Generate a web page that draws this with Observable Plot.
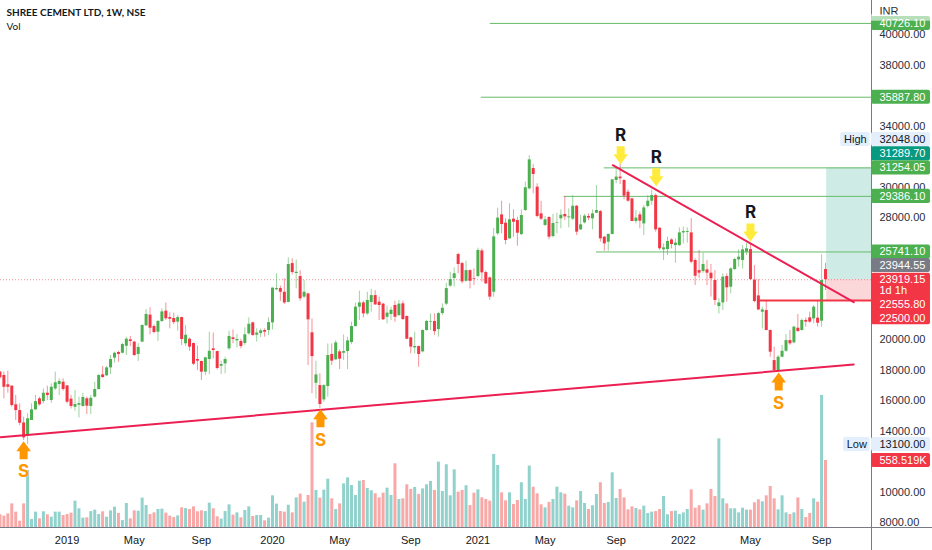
<!DOCTYPE html>
<html>
<head>
<meta charset="utf-8">
<script src="https://cdn.jsdelivr.net/npm/d3@7"></script>
<script src="https://cdn.jsdelivr.net/npm/@observablehq/plot@0.6"></script>
<style>
html,body{margin:0;padding:0;background:#fff;overflow:hidden}
svg{display:block}
</style>
</head>
<body>
<div id="chart"></div>
<script>
// Weekly candles, [open, high, low, close]
const candles2018 = [
[17870,17900,17400,17500],[17640,17860,16110,16870],[17030,17920,16480,16870],[16940,16980,15560,15670],[15720,16330,14690,15340],[15340,15780,14360,14510],[14530,14910,13380,13550],[13770,15130,13110,14800],[14690,15780,14690,15390],[15390,16330,15340,15930],[16110,16220,15630,15720],[15930,16760,15780,16480],[16480,16940,16000,16330],[16000,17090,15820,16870],[16760,17860,16660,17160],[17050,17420,16330,17250],[17200,17420,16610,16720]
];
const candles2019 = [
[16960,16980,15780,15890],[16090,16330,15450,15610],[15560,16660,15300,15740],[15690,16220,14860,15800],[15610,16480,15560,16200],[16110,16220,15080,15630],[15610,16330,15080,16150],[16220,17200,16170,16720],[16720,17700,16700,17640],[17680,18230,17460,17510],[17620,18230,17570,18140],[18140,18950,17700,18690],[18780,19170,18450,19100],[19150,19230,18510,19020],[19100,19760,19060,19670],[19560,20150,18950,20020],[19980,20200,19540,19870],[19830,19890,18890,18950],[19020,19720,18560,19480],[19830,20960,19800,20920],[20900,21950,20850,21640],[21600,22080,20310,20740],[20850,20960,20370,20460],[20480,21250,19870,21180],[21180,22010,21110,21810],[21860,22400,21250,21360],[21440,21750,20700,21330],[21380,21730,20980,21110],[21140,21570,20550,21440],[21440,21460,19610,20000],[19720,20920,19540,20280],[20020,20090,19230,19500],[19740,19760,18290,18380],[18690,19580,17970,18580],[18560,18580,17310,17860],[17860,18840,17640,18800],[18690,20480,17700,19230],[19390,20420,18730,19280],[19210,19230,18010,18100],[18250,18580,17700,18360],[18400,18840,17750,18690],[19390,20550,19280,20200],[20110,20630,19720,20000],[19910,20330,19450,20000],[19870,20020,19390,19540],[19740,20770,19610,20310],[20370,21420,20280,21000],[21090,21140,20220,20260],[20280,20700,19830,20420],[20390,20700,20130,20570],[20590,20700,20150,20480],[20590,21420,20260,21110]
];
const candles2020 = [
[21090,23390,20630,23370],[23260,24310,23210,23340],[23340,23500,22510,23100],[23100,23980,22290,22400],[22430,25350,22400,24920],[24980,25290,24240,24390],[24330,25220,23320,24410],[24130,24520,22510,22670],[22780,23870,22670,23100],[22990,23040,18290,21290],[20440,21350,16440,18880],[17130,18580,16110,17680],[16980,17750,15450,15740],[16040,17030,15890,16980],[16920,19710,16220,18950],[19020,19710,18290,18580],[18670,19930,18620,19780],[19190,19320,18030,18710],[19100,20300,18620,19210],[19210,20150,18030,19910],[19800,21140,19670,20850],[20850,22380,20810,22120],[22120,23170,21250,22400],[22400,22510,21420,21680],[21680,23100,21570,22560],[22430,23280,21790,22880],[22880,23210,22230,22270],[22450,22780,21250,22230],[22320,22380,21250,21290],[21460,22190,21030,21730],[21640,22120,21250,21920],[22230,22510,21140,21460],[21570,22560,21510,22320],[22340,22510,21250,21310],[21510,21550,19980,20020],[20110,20150,19060,19500],[19450,20480,19060,19540],[19540,19580,18180,19020],[19190,20630,19120,20590],[20590,21250,20550,21180],[21140,21680,20590,21180],[21180,21680,20260,20520],[20650,21790,20150,21700],[21700,22340,21570,22050],[22320,23690,22230,23340],[23500,24410,23430,23930],[24000,24700,23430,24310],[25570,25660,24310,24920],[24980,25070,23650,23780],[23820,25140,23760,24520],[24520,24570,23320,23820],[24000,24630,23540,23960]
];
const candles2021 = [
[24130,25990,24040,25840],[25810,25940,23760,24370],[24390,24480,23600,23650],[24040,24090,22560,22780],[23100,27280,22780,26730],[26930,28610,26820,27960],[28170,29070,26930,27540],[27630,27910,26210,26490],[26600,28900,26560,27850],[27890,28500,26710,27690],[27800,28020,26120,26970],[26880,28500,26820,28130],[28460,30320,28390,29950],[29880,32050,29810,31780],[31210,31480,29550,30820],[29990,30210,27980,28070],[28240,29050,27800,27890],[27480,28070,27410,27850],[28000,28070,26540,26710],[26750,28200,26670,27610],[27630,28280,26930,27670],[27910,28500,27260,28150],[28200,29380,27800,28040],[27980,28570,27320,28040],[27890,29440,27800,28740],[28740,28790,26820,27040],[27190,28130,27150,27520],[27650,28200,27580,28090],[28070,28240,27800,27960],[27910,28500,27190,28240],[28280,30100,28280,28460],[28390,28460,26380,26600],[26710,26750,25790,26270],[26380,26930,25790,26890],[26890,30490,26860,30470],[30430,31340,30210,30650],[30650,31520,30160,30540],[30430,30470,29160,29400],[29660,29810,29000,29070],[29220,29270,27720,27740],[27740,28460,27580,27960],[28170,28350,27260,27760],[27580,28790,26820,28630],[28720,29440,28630,29070],[29070,29810,28790,29440],[29440,29550,27040,27190],[27300,27320,25840,25950],[25880,26270,25180,26010],[25900,26710,25510,26430],[26530,26600,25950,26230],[26160,26600,25000,26320],[26160,27320,26100,26990]
];
const candles2022 = [
[26990,27370,26270,27080],[27020,27320,26320,27080],[26990,27930,24960,25070],[25180,25290,23540,24150],[24520,25840,23980,24350],[24460,25660,24350,24920],[24570,25180,23540,24350],[24350,24920,22780,23980],[23870,24520,22230,22560],[22160,22670,21680,22400],[22400,24310,21900,24090],[24130,24310,22450,23390],[23430,24700,22990,24630],[24590,25330,24520,25250],[25220,25880,24740,25400],[25180,26160,24630,25880],[25730,26320,25510,25950],[25900,26270,23870,23930],[23890,24850,22400,22490],[22860,23930,21900,21940],[21790,22120,20700,21940],[21900,22560,20590,20590],[20590,20630,18840,19170],[18620,19500,17920,17970],[17970,18950,17920,18840],[18840,19610,18800,19230],[19230,20330,19170,19930],[19930,20590,19610,19720],[19780,20870,19720,20810],[20740,21640,20480,20520],[20590,21350,20550,21250],[21250,21420,20810,21140],[21420,21790,21070,21140],[21350,22230,21030,22120],[21400,22560,20810,21070],[21200,25550,20810,23870],[24590,25000,23210,23919.15]
];
// Weekly volume, thousands
const volumes = [
106,95,114,197,128,53,197,475,67,128,72,131,106,86,128,128,100,108,120,220,156,78,81,133,145,108,131,86,139,170,117,58,200,72,139,136,245,183,108,122,150,153,120,95,83,97,164,158,150,172,131,139,133,203,156,89,70,133,189,103,122,81,142,172,92,100,100,56,78,264,195,133,128,186,122,247,278,211,267,873,309,245,311,403,239,150,197,364,414,350,267,386,392,325,306,281,247,286,328,267,531,234,239,356,317,334,275,322,356,384,309,545,300,523,
264,481,295,309,348,183,286,314,247,234,220,609,517,289,222,289,192,225,373,234,512,336,281,189,164,209,234,336,289,278,178,164,222,300,200,150,181,275,373,200,209,456,242,317,247,147,172,158,147,178,117,128,133,150,259,106,133,136,108,122,150,314,161,181,145,197,317,259,739,239,197,156,156,122,161,145,145,206,231,214,264,342,239,147,264,122,108,122,247,150,83,117,239,211,1101,558.519
];
const lastWeek = new Date("2022-09-12");
const priceTicks = [8000,10000,14000,16000,18000,20000,28000,30000,34000,38000,40000];
const monthTickDates = ["2019-01-07","2019-05-06","2019-09-02","2020-01-06","2020-05-04","2020-09-07","2021-01-04","2021-05-03","2021-09-06","2022-01-03","2022-05-02","2022-09-05"];
const monthTickLabels = ["2019","May","Sep","2020","May","Sep","2021","May","Sep","2022","May","Sep"];
const axisLabels = [
  {t:"40726.10",p:40727,c:"#4caf50",f:"#fff"},
  {t:"35887.80",p:35887.8,c:"#4caf50",f:"#fff"},
  {t:"32048.00",p:33115,c:"#e3effd",f:"#131722"},
  {t:"31289.70",p:32177,c:"#089981",f:"#fff"},
  {t:"31254.05",p:31254.05,c:"#4caf50",f:"#fff"},
  {t:"29386.10",p:29386.1,c:"#4caf50",f:"#fff"},
  {t:"25741.10",p:25741.1,c:"#4caf50",f:"#fff"},
  {t:"23944.55",p:24853,c:"#787b86",f:"#fff"},
  {t:"13100.00",p:13116,c:"#e3effd",f:"#131722"},
  {t:"558.519K",p:12067,c:"#f23645",f:"#fff"}
];
const redBlockTexts = [
  {t:"23919.15",p:23919.15},{t:"1d 1h",p:23214},{t:"22555.80",p:22296},{t:"22500.00",p:21378}
];
const redBlockRange = [20965, 24345];
const hiLoNames = [
  {t:"High",p:33115,from:"2022-10-09"},
  {t:"Low",p:13116,from:"2022-10-14"}
];
const greenLevels = [
  {p:40726.1,from:"2021-01-26"},
  {p:35887.8,from:"2021-01-10"},
  {p:31254.05,from:"2021-08-16"},
  {p:29386.1,from:"2021-06-06"},
  {p:25741.1,from:"2021-08-02"}
];
const redLevel = {p:22555.8,from:"2022-05-18"};
const trendLines = [
  [{d:"2018-09-11",p:13595},{d:"2022-11-01",p:18362}],
  [{d:"2021-08-31",p:31430},{d:"2022-11-01",p:22447}]
];
const supportArrows = [{d:"2018-10-22",p:12742},{d:"2020-03-31",p:14833},{d:"2022-06-21",p:17246}];
const resistArrows = [{d:"2021-09-14",p:32085},{d:"2021-11-16",p:30643},{d:"2022-05-02",p:27017}];
const supportLabels = [{d:"2018-10-22",p:11345},{d:"2020-03-31",p:13378},{d:"2022-06-21",p:15824}];
const resistLabels = [{d:"2021-09-14",p:33377},{d:"2021-11-16",p:31915},{d:"2022-05-02",p:28348}];
const positionStart = new Date("2022-09-14");
const currentPrice = 23919.15;
const targetPrice = 31254.05;
const stopPrice = 22555.8;

// Volume pane shares the price scale through this mapping
const volBase = 7674, volPerK = 7.866;
const vy = v => volBase + v * volPerK;

const ohlc = [...candles2018, ...candles2019, ...candles2020, ...candles2021, ...candles2022];
const n = ohlc.length;
const rows = ohlc.map(([o,h,l,c], i) => ({
  date: d3.utcDay.offset(lastWeek, -7 * (n - 1 - i)),
  o, h, l, c, v: volumes[i], up: c >= o
}));
const D = s => new Date(s);
const gutter = D("2022-12-02T12:00Z");
const domainStart = D("2018-09-11");
const domainEnd = D("2023-03-20T14:00Z");
const boxEnd = D("2023-03-17");
const boxPad = 460;

const upArrow = {draw(ctx, size){
  const r = Math.sqrt(size/Math.PI), k = r/9;
  const pts = [[0,-9],[7.3,1],[4,1],[4,9],[-4,9],[-4,1],[-7.3,1]];
  pts.forEach(([x,y],i)=> i ? ctx.lineTo(x*k,y*k) : ctx.moveTo(x*k,y*k));
  ctx.closePath();
}};
const downArrow = {draw(ctx, size){
  const r = Math.sqrt(size/Math.PI), k = r/9;
  const pts = [[0,9],[7.3,-1],[4,-1],[4,-9],[-4,-9],[-4,-1],[-7.3,-1]];
  pts.forEach(([x,y],i)=> i ? ctx.lineTo(x*k,y*k) : ctx.moveTo(x*k,y*k));
  ctx.closePath();
}};

const axisFont = {fontSize:11, fontFamily:"Liberation Sans, Arial, sans-serif"};
const right = {frameAnchor:"right", textAnchor:"start", dx:-53};
const red = "#f23645", green = "#4caf50", trend = "#ec1f52";

const chart = Plot.plot({
  width:932, height:550,
  marginTop:0, marginRight:0, marginBottom:0, marginLeft:0,
  style:{background:"#fff"},
  x:{type:"utc", domain:[domainStart, domainEnd], range:[0,932], axis:null},
  y:{type:"linear", domain:[6166,42229], range:[550,0], axis:null},
  marks:[
    // position tool shading
    Plot.rect([0],{x1:positionStart,x2:gutter,y1:currentPrice,y2:targetPrice,fill:"#089981",fillOpacity:0.2}),
    Plot.rect([0],{x1:positionStart,x2:gutter,y1:stopPrice,y2:currentPrice,fill:red,fillOpacity:0.2}),
    // volume
    Plot.ruleX(rows,{x:"date",y1:volBase,y2:d=>vy(d.v),stroke:d=>d.up?"#92d2cc":"#f9a8a8",strokeWidth:3}),
    // current price
    Plot.ruleY([currentPrice],{x1:domainStart,x2:gutter,stroke:red,strokeOpacity:0.55,strokeDasharray:"1 2"}),
    // levels
    Plot.ruleY(greenLevels,{y:"p",x1:d=>D(d.from),x2:gutter,stroke:"#66bb6a",strokeWidth:1}),
    // candles
    Plot.ruleX(rows,{x:"date",y1:"l",y2:"h",stroke:d=>d.up?green:red,strokeOpacity:0.55,strokeWidth:1}),
    Plot.ruleX(rows,{x:"date",y1:"o",y2:"c",stroke:d=>d.up?green:red,strokeWidth:3}),
    // drawn lines
    Plot.ruleY([redLevel],{y:"p",x1:d=>D(d.from),x2:gutter,stroke:red,strokeWidth:2}),
    ...trendLines.map(t=>Plot.line(t,{x:d=>D(d.d),y:"p",stroke:trend,strokeWidth:2})),
    // arrows and letters
    Plot.dot(supportArrows,{x:d=>D(d.d),y:"p",r:9,symbol:upArrow,fill:"#ff9800",stroke:null}),
    Plot.dot(resistArrows,{x:d=>D(d.d),y:"p",r:9,symbol:downArrow,fill:"#ffeb3b",stroke:null}),
    Plot.text(supportLabels,{x:d=>D(d.d),y:"p",text:()=>"S",fill:"#ff9800",fontSize:17,fontWeight:700,fontFamily:"Inter, sans-serif"}),
    Plot.text(resistLabels,{x:d=>D(d.d),y:"p",text:()=>"R",fill:"#131722",fontSize:17,fontWeight:700,fontFamily:"Inter, sans-serif"}),
    // axes
    Plot.ruleY([volBase],{stroke:"#787b86",strokeWidth:1}),
    Plot.ruleX([gutter],{stroke:"#787b86",strokeWidth:1}),
    Plot.text(monthTickDates,{x:d=>D(d),y:6166,dy:-10,text:(d,i)=>monthTickLabels[i],fill:"#131722",
      fontWeight:(d,i)=>/^\d/.test(monthTickLabels[i])?700:400,...axisFont}),
    Plot.text(priceTicks,{y:d=>d,text:d=>d.toFixed(2),fill:"#2a2e39",...right,...axisFont}),
    Plot.text(["INR"],{y:41508,text:d=>d,fill:"#2a2e39",...right,...axisFont}),
    // price boxes
    Plot.rect(axisLabels,{x1:gutter,x2:boxEnd,y1:d=>d.p-boxPad,y2:d=>d.p+boxPad,fill:"c",rx:2}),
    Plot.rect([0],{x1:gutter,x2:boxEnd,y1:redBlockRange[0],y2:redBlockRange[1],fill:red,rx:2}),
    Plot.rect(hiLoNames,{x1:d=>D(d.from),x2:D("2022-11-30"),y1:d=>d.p-boxPad,y2:d=>d.p+boxPad,fill:"#e3effd",rx:2}),
    Plot.text(axisLabels,{y:"p",text:"t",fill:"f",...right,...axisFont}),
    Plot.text(redBlockTexts,{y:"p",text:"t",fill:"#fff",...right,...axisFont}),
    Plot.text(hiLoNames,{x:d=>new Date((+D(d.from)+ +D("2022-11-30"))/2),y:"p",text:"t",fill:"#131722",...axisFont}),
    Plot.rect([0],{x1:gutter,x2:boxEnd,y1:40870,y2:41300,fill:"#fff",fillOpacity:0.6}),
    // legend
    Plot.text(["SHREE CEMENT LTD, 1W, NSE"],{frameAnchor:"top-left",dx:6,dy:8,text:d=>d,fill:"#131722",fontSize:10,fontWeight:700,fontFamily:"Lato, sans-serif"}),
    Plot.text(["Vol"],{frameAnchor:"top-left",dx:6,dy:22,text:d=>d,fill:"#131722",fontSize:10,fontFamily:"Lato, sans-serif"})
  ]
});
document.getElementById("chart").append(chart);
</script>
</body>
</html>
